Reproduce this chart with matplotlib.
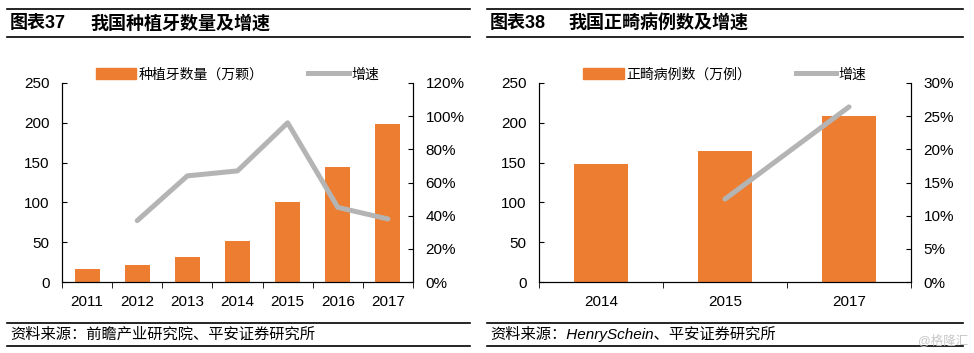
import numpy as np
import matplotlib
matplotlib.use("Agg")
import matplotlib.pyplot as plt
from matplotlib.lines import Line2D
from matplotlib.patches import Patch

plt.rcParams['font.family'] = ['Liberation Sans', 'Noto Sans CJK SC', 'DejaVu Sans']

# left chart data
years1 = ["2011", "2012", "2013", "2014", "2015", "2016", "2017"]
implants = [16, 21, 32, 52, 100, 144, 198]
implant_growth = [37, 64, 67, 96, 45, 38]   # % from 2012 on

# right chart data
years2 = ["2014", "2015", "2017"]
ortho_cases = [148, 165, 208]
ortho_growth = [12.5, 26.4]                 # % from 2015 on

W, H = 974, 353
BAR = "#ED7D31"
GREY = "#B4B4B4"

fig = plt.figure(figsize=(W / 100, H / 100), dpi=100)


def px(x, y):
    return x / W, 1 - y / H


def hline(x0, x1, y, lw=1.2):
    a, b = px(x0, y)
    c, _ = px(x1, y)
    fig.add_artist(Line2D([a, c], [b, b], transform=fig.transFigure, color="black", lw=lw))


def panel(rect, cats, bars, growth, ymax, gmax, gstep, bar_w, bar_label):
    x0, y0, x1, y1 = rect
    l, b = px(x0, y1)
    r, t = px(x1, y0)
    ax = fig.add_axes([l, b, r - l, t - b])
    x = np.arange(len(cats))
    ax.bar(x, bars, width=bar_w, color=BAR, zorder=2)
    ax.set_xlim(-0.5, len(cats) - 0.5)
    ax.set_ylim(0, ymax)
    ax.set_yticks(np.arange(0, ymax + 1, 50))
    ax.set_xticks(x)
    ax.set_xticklabels(cats)
    ax.set_xticks(np.arange(len(cats) + 1) - 0.5, minor=True)
    ax.tick_params(axis="x", which="major", length=0, pad=9, labelsize=11)
    ax.tick_params(axis="x", which="minor", length=4, direction="out")
    ax.tick_params(axis="y", length=3.5, direction="in", labelsize=11, pad=9)
    ax.spines["top"].set_visible(False)

    ax2 = ax.twinx()
    ax2.plot(x[len(cats) - len(growth):], growth, color=GREY, lw=3.6,
             solid_capstyle="round", zorder=3)
    ax2.set_ylim(0, gmax)
    ax2.set_yticks(np.arange(0, gmax + 0.1, gstep))
    ax2.set_yticklabels([f"{int(v)}%" for v in np.arange(0, gmax + 0.1, gstep)])
    ax2.tick_params(axis="y", length=3.5, direction="in", labelsize=11, pad=9)
    ax2.spines["top"].set_visible(False)

    handles = [Patch(color=BAR), Line2D([], [], color=GREY, lw=3.6)]
    ax.legend(handles, [bar_label, "增速"], loc="lower center",
              bbox_to_anchor=(0.5, 0.98), ncol=2, frameon=False, fontsize=10,
              handlelength=2.9, handleheight=0.8, columnspacing=3.2,
              handletextpad=0.2, borderaxespad=0)
    return ax


panel((62, 83, 413, 282), years1, implants, implant_growth, 250, 120, 20, 0.5,
      "种植牙数量（万颗）")
panel((539, 83, 911, 282), years2, ortho_cases, ortho_growth, 250, 30, 5, 0.44,
      "正畸病例数（万例）")

# titles and rules
for x0, x1, tag, name, nx in [(7, 470, "图表37", "我国种植牙数量及增速", 90),
                              (487, 963, "图表38", "我国正畸病例数及增速", 568)]:
    hline(x0, x1, 9)
    hline(x0, x1, 37)
    fig.text(*px(x0 + 3, 24), tag, fontsize=13, fontweight="bold", va="center")
    fig.text(*px(nx, 24), name, fontsize=13, fontweight="bold", va="center")
    hline(x0, x1, 323)
    hline(x0, x1, 346)

fig.text(*px(10, 334), "资料来源：前瞻产业研究院、平安证券研究所", fontsize=11,
         style="italic", va="center")
fig.text(*px(490, 334), "资料来源：HenrySchein、平安证券研究所", fontsize=11,
         style="italic", va="center")
fig.text(*px(968, 341), "@格隆汇", fontsize=9, color="#C8C8C8", ha="right", va="center")

fig.savefig("out.png", dpi=100)
